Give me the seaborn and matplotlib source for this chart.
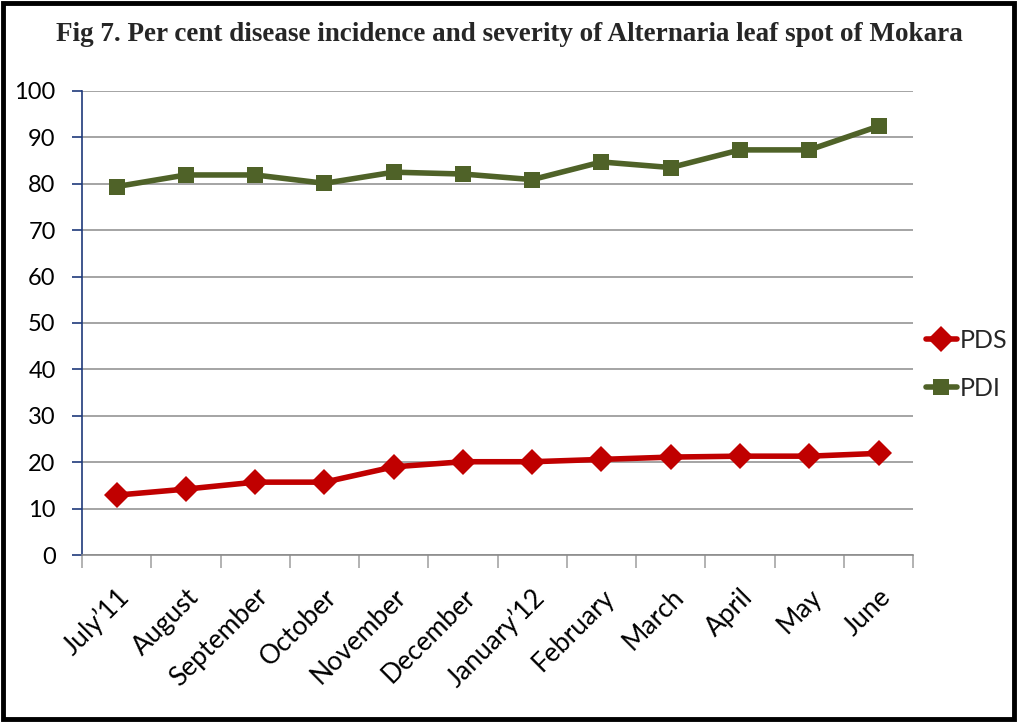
import matplotlib
matplotlib.use("Agg")
import matplotlib.pyplot as plt
import matplotlib.patches as mpatches
import seaborn as sns
import pandas as pd
import numpy as np

# Monthly observations, July 2011 to June 2012
months = ["July\u201911", "August", "September", "October", "November", "December",
          "January\u201912", "February", "March", "April", "May", "June"]
pds = [12.9, 14.2, 15.7, 15.7, 19.0, 20.1, 20.1, 20.6, 21.1, 21.3, 21.3, 21.9]
pdi = [79.4, 81.9, 81.9, 80.1, 82.5, 82.1, 80.9, 84.7, 83.5, 87.3, 87.3, 92.4]
y_ticks = [0, 10, 20, 30, 40, 50, 60, 70, 80, 90, 100]

title = "Fig 7. Per cent disease incidence and severity of Alternaria leaf spot of Mokara"

sns.set_theme(style="white")
plt.rcParams["font.family"] = ["Lato", "DejaVu Sans"]

df = pd.DataFrame({
    "month": months * 2,
    "value": pds + pdi,
    "series": ["PDS"] * len(months) + ["PDI"] * len(months),
})
df["pos"] = np.tile(np.arange(len(months)), 2)

fig = plt.figure(figsize=(10.18, 7.22), dpi=100)
ax = fig.add_axes([0.0806, 0.2313, 0.8164, 0.6427])

palette = {"PDS": "#C00000", "PDI": "#4F6228"}
markers = {"PDS": "D", "PDI": "s"}
sizes = {"PDS": 13.5, "PDI": 11.5}
for name in ["PDS", "PDI"]:
    sub = df[df["series"] == name]
    sns.lineplot(data=sub, x="pos", y="value", ax=ax, color=palette[name],
                 marker=markers[name], markersize=sizes[name], markeredgewidth=0,
                 linewidth=4.0, label=name, zorder=3)

ax.set_xlim(-0.5, len(months) - 0.5)
ax.set_ylim(0, 100)
ax.set_yticks(y_ticks)
ax.set_xlabel("")
ax.set_ylabel("")

# category labels at centres, tick marks at category boundaries
ax.set_xticks(np.arange(len(months)))
ax.set_xticklabels(months, rotation=45, ha="right", va="top", rotation_mode="anchor",
                   fontsize=19)
ax.tick_params(axis="x", which="major", length=0, pad=21)
ax.set_xticks(np.arange(-0.5, len(months), 1.0), minor=True)
ax.tick_params(axis="x", which="minor", length=9, width=1.2, color="#A6A6A6",
               direction="out", bottom=True)

ax.tick_params(axis="y", which="major", length=7, width=1.2, color="#1F3A7A",
               direction="out", left=True, labelsize=17, pad=12)
for lab in ax.get_yticklabels():
    lab.set_color("black")
for lab in ax.get_xticklabels():
    lab.set_color("black")

ax.yaxis.grid(True, color="#8C8C8C", linewidth=1.1)
ax.xaxis.grid(False)
ax.set_axisbelow(True)
for s in ["top", "right"]:
    ax.spines[s].set_visible(False)
ax.spines["left"].set_color("#1F3A7A")
ax.spines["left"].set_linewidth(1.2)
ax.spines["bottom"].set_color("#8C8C8C")
ax.spines["bottom"].set_linewidth(1.2)

leg = ax.legend(loc="center left", bbox_to_anchor=(1.0, 0.41), frameon=False,
                fontsize=18, handlelength=1.25, handletextpad=0.1, labelspacing=1.0,
                borderaxespad=0.3, borderpad=0.2)

fig.text(0.5, 0.952, title, ha="center", va="center", fontsize=19.5, fontweight="bold",
         family=["Liberation Serif", "DejaVu Serif"])

# figure frame
fig.patches.append(mpatches.Rectangle((0.003, 0.004), 0.993, 0.992, transform=fig.transFigure,
                                      fill=False, edgecolor="black", linewidth=3.5))

fig.savefig("out.png", dpi=100, facecolor="white")
